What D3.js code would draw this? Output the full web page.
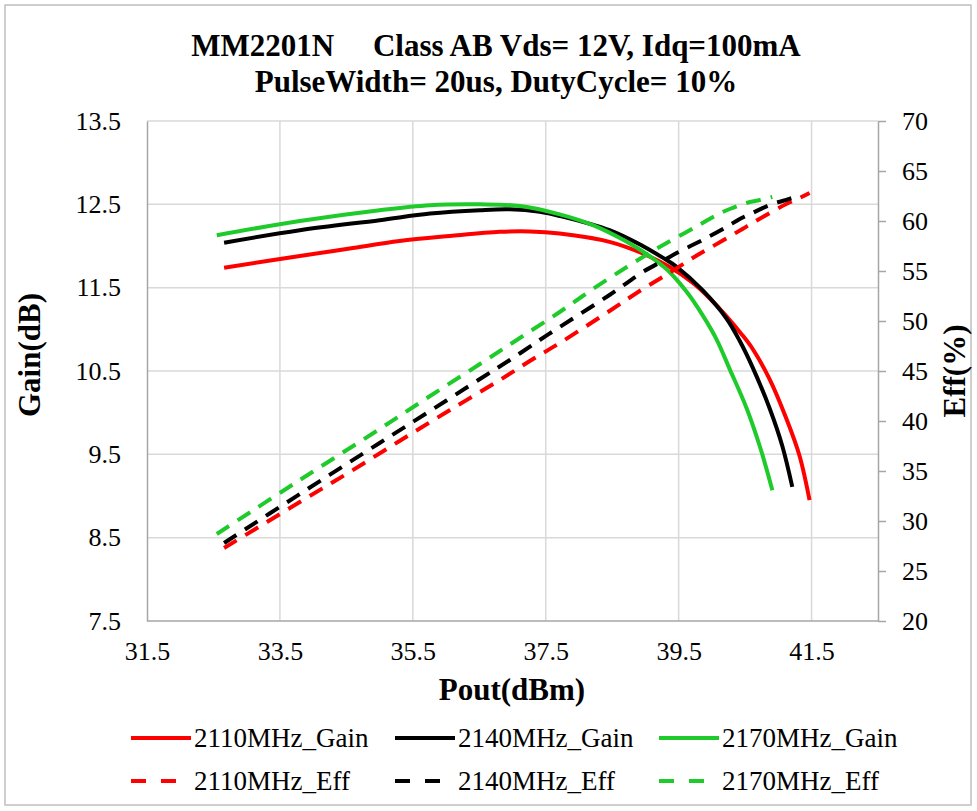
<!DOCTYPE html>
<html lang="en">
  <head>
    <meta charset="UTF-8" />
    <title>MM2201N Gain & Eff</title>
    <script src="https://d3js.org/d3.v7.min.js"></script>
    <style>
      body {
        margin: 0;
        background: #fff;
      }
      svg text {
        font-family: "Liberation Serif", "Times New Roman", serif;
        fill: #000;
      }
      .grid line {
        stroke: #d9d9d9;
        stroke-width: 1.5px;
      }
      .axis path,
      .axis line {
        stroke: #a6a6a6;
        stroke-width: 1.5px;
      }
      .axis text {
        font-size: 26px;
      }
      .series {
        fill: none;
        stroke-width: 4px;
      }
    </style>
  </head>
  <body>
    <svg id="chart" width="977" height="811"></svg>

    <script>
      // tick labels
      const xTicks = [31.5, 33.5, 35.5, 37.5, 39.5, 41.5];
      const gainTicks = [7.5, 8.5, 9.5, 10.5, 11.5, 12.5, 13.5];
      const effTicks = [20, 25, 30, 35, 40, 45, 50, 55, 60, 65, 70];

      // 2110MHz
      const pout2110 = [32.66, 33.8, 34.55, 35.3, 36.06, 36.81, 37.26, 37.71, 38.46, 38.96, 39.36, 39.71, 39.97, 40.46, 40.61, 40.87, 41.12, 41.32, 41.47];
      const gain2110 = [11.74, 11.88, 11.97, 12.06, 12.12, 12.17, 12.175, 12.15, 12.05, 11.91, 11.75, 11.56, 11.37, 10.93, 10.77, 10.4, 9.93, 9.48, 8.95];
      const eff2110 = [27.3, 31.9, 34.9, 38.0, 41.1, 44.1, 46.0, 47.8, 51.0, 53.2, 54.8, 56.3, 57.3, 59.2, 59.8, 60.8, 61.7, 62.3, 62.8];

      // 2140MHz
      const pout2140 = [32.66, 33.8, 35.0, 35.76, 36.51, 36.96, 37.41, 37.71, 38.46, 38.96, 39.26, 39.47, 39.86, 40.22, 40.42, 40.61, 40.87, 41.06, 41.21];
      const gain2140 = [12.04, 12.19, 12.31, 12.39, 12.43, 12.44, 12.41, 12.36, 12.19, 12.0, 11.86, 11.75, 11.47, 11.13, 10.86, 10.55, 10.05, 9.6, 9.11];
      const eff2140 = [27.8, 32.7, 37.8, 41.0, 44.2, 46.1, 48.1, 49.4, 52.6, 54.9, 56.0, 56.8, 58.1, 59.4, 60.2, 60.8, 61.6, 62.0, 62.3];

      // 2170MHz
      const pout2170 = [32.55, 33.8, 35.0, 35.76, 36.51, 37.11, 37.71, 38.21, 38.72, 39.06, 39.32, 39.62, 39.86, 40.07, 40.27, 40.52, 40.72, 40.91];
      const gain2170 = [12.13, 12.3, 12.43, 12.49, 12.5, 12.48, 12.38, 12.25, 12.05, 11.88, 11.72, 11.45, 11.17, 10.88, 10.52, 10.06, 9.6, 9.07];
      const eff2170 = [28.7, 34.1, 39.2, 42.5, 45.7, 48.3, 50.9, 53.2, 55.4, 56.8, 57.8, 58.9, 59.8, 60.6, 61.2, 61.8, 62.1, 62.4];

      const series = [
        { name: "2110MHz_Gain", color: "#ff0000", dash: false, axis: "gain", px: pout2110, py: gain2110 },
        { name: "2140MHz_Gain", color: "#000000", dash: false, axis: "gain", px: pout2140, py: gain2140 },
        { name: "2170MHz_Gain", color: "#1ecb2a", dash: false, axis: "gain", px: pout2170, py: gain2170 },
        { name: "2110MHz_Eff", color: "#ff0000", dash: true, axis: "eff", px: pout2110, py: eff2110 },
        { name: "2140MHz_Eff", color: "#000000", dash: true, axis: "eff", px: pout2140, py: eff2140 },
        { name: "2170MHz_Eff", color: "#1ecb2a", dash: true, axis: "eff", px: pout2170, py: eff2170 },
      ];

      const svg = d3.select("#chart");
      const plotL = 147,
        plotR = 878,
        plotT = 121,
        plotB = 621;

      // frame
      svg
        .append("rect")
        .attr("x", 5)
        .attr("y", 5)
        .attr("width", 966)
        .attr("height", 800)
        .attr("fill", "#fff")
        .attr("stroke", "#bfbfbf")
        .attr("stroke-width", 1.5);

      const x = d3.scaleLinear().domain([31.5, 42.5]).range([plotL, plotR]);
      const yG = d3.scaleLinear().domain([7.5, 13.5]).range([plotB, plotT]);
      const yE = d3.scaleLinear().domain([20, 70]).range([plotB, plotT]);

      // gridlines
      const grid = svg.append("g").attr("class", "grid");
      grid
        .selectAll(".h")
        .data(gainTicks.slice(1))
        .join("line")
        .attr("x1", plotL)
        .attr("x2", plotR)
        .attr("y1", (d) => yG(d))
        .attr("y2", (d) => yG(d));
      grid
        .selectAll(".v")
        .data(xTicks.slice(1))
        .join("line")
        .attr("x1", (d) => x(d))
        .attr("x2", (d) => x(d))
        .attr("y1", plotT)
        .attr("y2", plotB);

      // axes
      const fmt = d3.format(".1f");
      svg
        .append("g")
        .attr("class", "axis")
        .attr("transform", `translate(0,${plotB})`)
        .call(d3.axisBottom(x).tickValues(xTicks).tickFormat(fmt).tickSize(0).tickPadding(21))
        .call((g) => g.select(".domain").attr("d", `M${plotL},0H${plotR}`));
      svg
        .append("g")
        .attr("class", "axis")
        .attr("transform", `translate(${plotL},0)`)
        .call(d3.axisLeft(yG).tickValues(gainTicks).tickFormat(fmt).tickSize(0).tickPadding(26));
      svg
        .append("g")
        .attr("class", "axis")
        .attr("transform", `translate(${plotR},0)`)
        .call(d3.axisRight(yE).tickValues(effTicks).tickSizeInner(8).tickSizeOuter(0).tickPadding(16));

      // lines
      svg
        .selectAll(".series")
        .data(series)
        .join("path")
        .attr("class", "series")
        .attr("stroke", (s) => s.color)
        .attr("stroke-dasharray", (s) => (s.dash ? "15,10" : null))
        .attr("d", (s) => {
          const yy = s.axis === "gain" ? yG : yE;
          return d3
            .line()
            .curve(d3.curveCatmullRom.alpha(0.5))
            .x((d, i) => x(s.px[i]))
            .y((d) => yy(d))(s.py);
        });

      // titles
      const title = svg
        .append("text")
        .attr("text-anchor", "middle")
        .attr("font-weight", "bold")
        .attr("font-size", 31)
        .style("white-space", "pre");
      title.append("tspan").attr("x", 496).attr("y", 56).text("MM2201N     Class AB Vds= 12V, Idq=100mA");
      title.append("tspan").attr("x", 496).attr("y", 92).text("PulseWidth= 20us, DutyCycle= 10%");

      svg
        .append("text")
        .attr("x", 512)
        .attr("y", 700)
        .attr("text-anchor", "middle")
        .attr("font-weight", "bold")
        .attr("font-size", 31)
        .text("Pout(dBm)");
      svg
        .append("text")
        .attr("transform", "translate(40,355) rotate(-90)")
        .attr("text-anchor", "middle")
        .attr("font-weight", "bold")
        .attr("font-size", 31)
        .text("Gain(dB)");
      svg
        .append("text")
        .attr("transform", "translate(965,371) rotate(-90)")
        .attr("text-anchor", "middle")
        .attr("font-weight", "bold")
        .attr("font-size", 31)
        .text("Eff(%)");

      // legend
      const colX = [131, 395, 659];
      const rowY = [738, 781];
      const leg = svg
        .selectAll(".leg")
        .data(series)
        .join("g")
        .attr("class", "leg")
        .attr("transform", (s, i) => `translate(${colX[i % 3]},${rowY[Math.floor(i / 3)]})`);
      leg
        .append("line")
        .attr("x1", 0)
        .attr("x2", 60)
        .attr("stroke", (s) => s.color)
        .attr("stroke-width", 4)
        .attr("stroke-dasharray", (s) => (s.dash ? "15,15" : null));
      leg
        .append("text")
        .attr("x", 63)
        .attr("dy", "0.33em")
        .attr("font-size", 27)
        .text((s) => s.name);
    </script>
  </body>
</html>
